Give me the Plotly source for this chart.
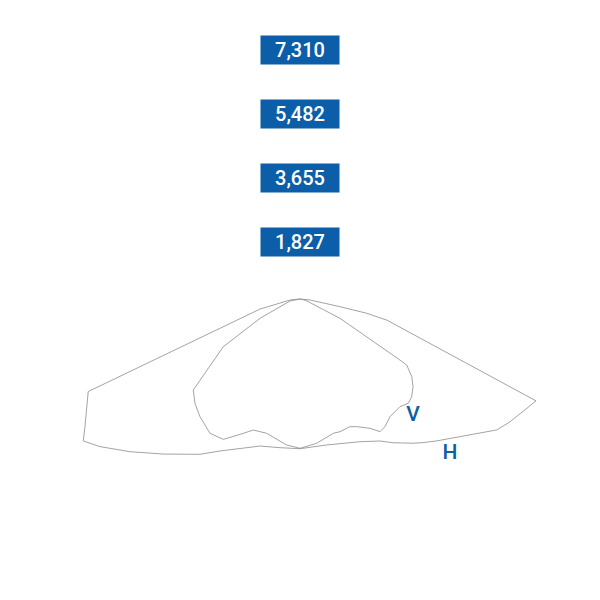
import plotly.graph_objects as go

# radial scale (cd) and the tick values shown on the vertical axis
R_MAX = 7310
TICK_VALS = [1827, 3655, 5482, 7310]
TICK_TEXT = ["1,827", "3,655", "5,482", "7,310"]

# H plane: angle from nadir (deg, counterclockwise = right side), intensity (cd)
H_THETA = [180, 121, 89, 83.8, 81.8, 80.8, 68.1, 61.1, 57.8, 45.4, 42.0, 39.5, 34.2,
           30.65, 23.85, 10.9, 0, 352, 344.1, 331.1, 326, 317.3, 310.6, 305.1,
           301.9, 299.3, 292, 274.5, 239, 180]
H_CD = [200, 333, 1142, 1916, 2259, 2508, 7265, 6847, 6640, 5486, 5250, 5078, 4721,
        4481, 4237, 4041, 4075, 4086, 4158, 4729, 5108, 5753, 6393, 6983,
        7290, 7041, 6522, 1150, 333, 200]

# V plane
V_THETA = [180, 132.5, 72.9, 61.6, 61.05, 57.7, 54.5, 50.9, 48.05, 44.8, 39.1, 35.15,
           32.5, 29.8, 25.2, 22.5, 17.65, 14.7, 6.9, 0, 354.5, 345.3, 339.4, 334.4,
           330.1, 324.7, 317.9, 312.8, 308.2, 297.95, 287.1, 243.4, 180]
V_CD = [200, 232, 1194, 3245, 3482, 3775, 3965, 4109, 4157, 4052, 4074, 4215,
        4255, 4024, 3808, 3730, 3767, 3757, 3950, 4063, 3987, 3757, 3784, 4083,
        4392, 4452, 4260, 4088, 3878, 2479, 1194, 319, 200]

# curve labels
LABELS = ["V", "H"]
LABEL_THETA = [45.9, 45.4]
LABEL_CD = [4493, 6017]

BLUE = "#0b5ea7"

fig = go.Figure()

fig.add_trace(go.Scatterpolar(r=H_CD, theta=H_THETA, mode="lines",
                              line=dict(color="#8c8c8c", width=0.8), name="H"))
fig.add_trace(go.Scatterpolar(r=V_CD, theta=V_THETA, mode="lines",
                              line=dict(color="#8c8c8c", width=0.8), name="V"))
fig.add_trace(go.Scatterpolar(r=LABEL_CD, theta=LABEL_THETA, mode="text",
                              text=LABELS,
                              textfont=dict(family="Roboto", size=21, color=BLUE,
                                            weight=500)))

# page body has an 8px margin, so margins are trimmed to keep the centre at 300,306
fig.update_layout(
    width=600, height=600,
    margin=dict(l=36, r=52, t=42, b=46),
    paper_bgcolor="white",
    showlegend=False,
    polar=dict(
        bgcolor="white",
        domain=dict(x=[0, 1], y=[0, 1]),
        angularaxis=dict(rotation=270, direction="counterclockwise", visible=False),
        radialaxis=dict(range=[0, R_MAX], visible=False),
    ),
)

# blue boxed tick labels up the vertical axis
for v, t in zip(TICK_VALS, TICK_TEXT):
    fig.add_annotation(x=0.5, y=0.5 + 0.5 * v / R_MAX, xref="paper", yref="paper",
                       text=t, showarrow=False, xanchor="center", yanchor="middle",
                       width=78, height=28, bgcolor=BLUE, borderpad=0,
                       font=dict(family="Roboto", size=20, color="white", weight=500))

fig.write_html("out.html")
